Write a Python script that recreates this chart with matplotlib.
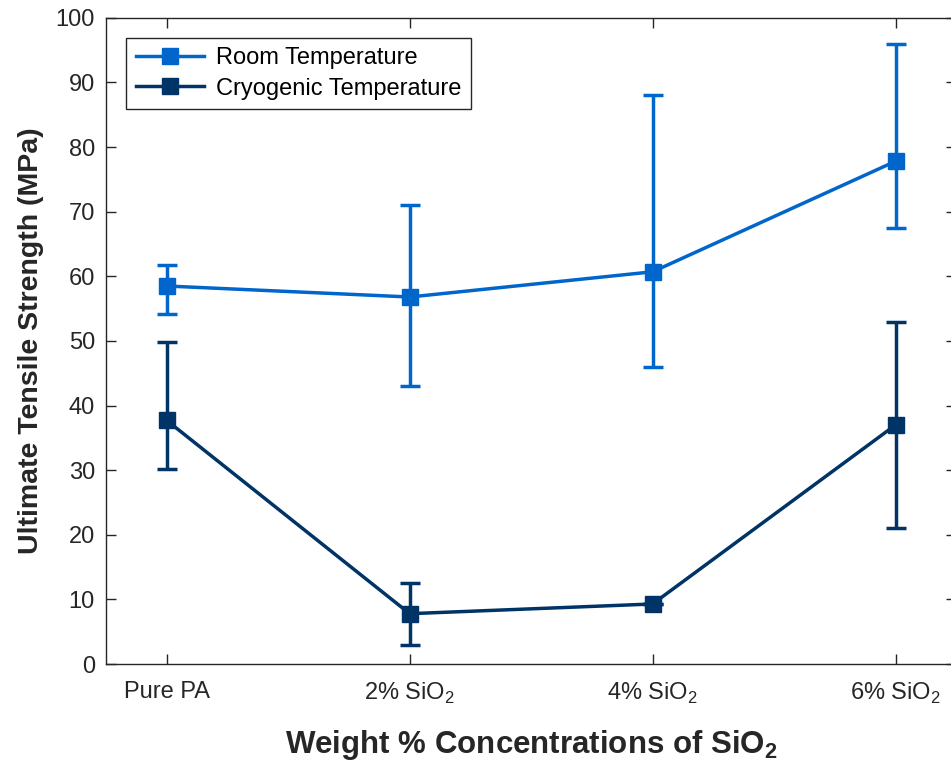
import matplotlib
matplotlib.use("Agg")
import matplotlib.pyplot as plt
from matplotlib.lines import Line2D

plt.rcParams['font.family'] = ['Liberation Sans', 'DejaVu Sans']
plt.rcParams['mathtext.fontset'] = 'custom'
plt.rcParams['mathtext.rm'] = 'Liberation Sans'
plt.rcParams['mathtext.bf'] = 'Liberation Sans:bold'

# Data
categories = ['Pure PA', '2% SiO$_2$', '4% SiO$_2$', '6% SiO$_2$']
positions = [1, 2, 3, 4]

room_mean = [58.5, 56.8, 60.7, 77.8]
room_upper = [61.8, 71.0, 88.0, 96.0]
room_lower = [54.2, 43.0, 46.0, 67.5]

cryo_mean = [37.7, 7.8, 9.3, 37.0]
cryo_upper = [49.8, 12.6, 9.3, 53.0]
cryo_lower = [30.2, 3.0, 9.3, 21.0]

room_color = '#0066cc'
cryo_color = '#003366'
text_color = '#262626'

fig = plt.figure(figsize=(9.51, 7.74), dpi=100)
ax = fig.add_axes([0.1115, 0.142, 0.894, 0.835])

handles = []


def draw(mean, upper, lower, color, label):
    err = [[m - lo for m, lo in zip(mean, lower)],
           [hi - m for m, hi in zip(mean, upper)]]
    ax.errorbar(positions, mean, yerr=err, color=color, marker='s',
                markersize=12, linewidth=2.5, elinewidth=2.5,
                capsize=7.5, capthick=2.5)
    handles.append(Line2D([], [], color=color, marker='s', markersize=12,
                          linewidth=2.5, label=label))


draw(room_mean, room_upper, room_lower, room_color, 'Room Temperature')
draw(cryo_mean, cryo_upper, cryo_lower, cryo_color, 'Cryogenic Temperature')

ax.set_xlim(0.75, 4.25)
ax.set_ylim(0, 100)
ax.set_yticks(range(0, 101, 10))
ax.set_xticks(positions)
ax.set_xticklabels(categories)

ax.tick_params(direction='in', length=7, width=1, top=True, right=True,
               labelsize=17, colors=text_color)
ax.tick_params(axis='x', pad=12)
ax.tick_params(axis='y', pad=8)
for s in ax.spines.values():
    s.set_color(text_color)
    s.set_linewidth(1)

ax.set_ylabel('Ultimate Tensile Strength (MPa)', fontsize=20.5,
              fontweight='bold', color=text_color, labelpad=8)
ax.set_xlabel(r'Weight % Concentrations of SiO$_\mathbf{2}$', fontsize=22.5,
              fontweight='bold', color=text_color, labelpad=16)

leg = ax.legend(handles=handles, loc='upper left', fontsize=17,
                handlelength=2.9, handletextpad=0.5,
                fancybox=False, framealpha=1, edgecolor=text_color,
                borderaxespad=0.85, labelspacing=0.35, borderpad=0.4)
leg.get_frame().set_linewidth(1)
for t in leg.get_texts():
    t.set_color('black')

fig.savefig('out.png', dpi=100)
